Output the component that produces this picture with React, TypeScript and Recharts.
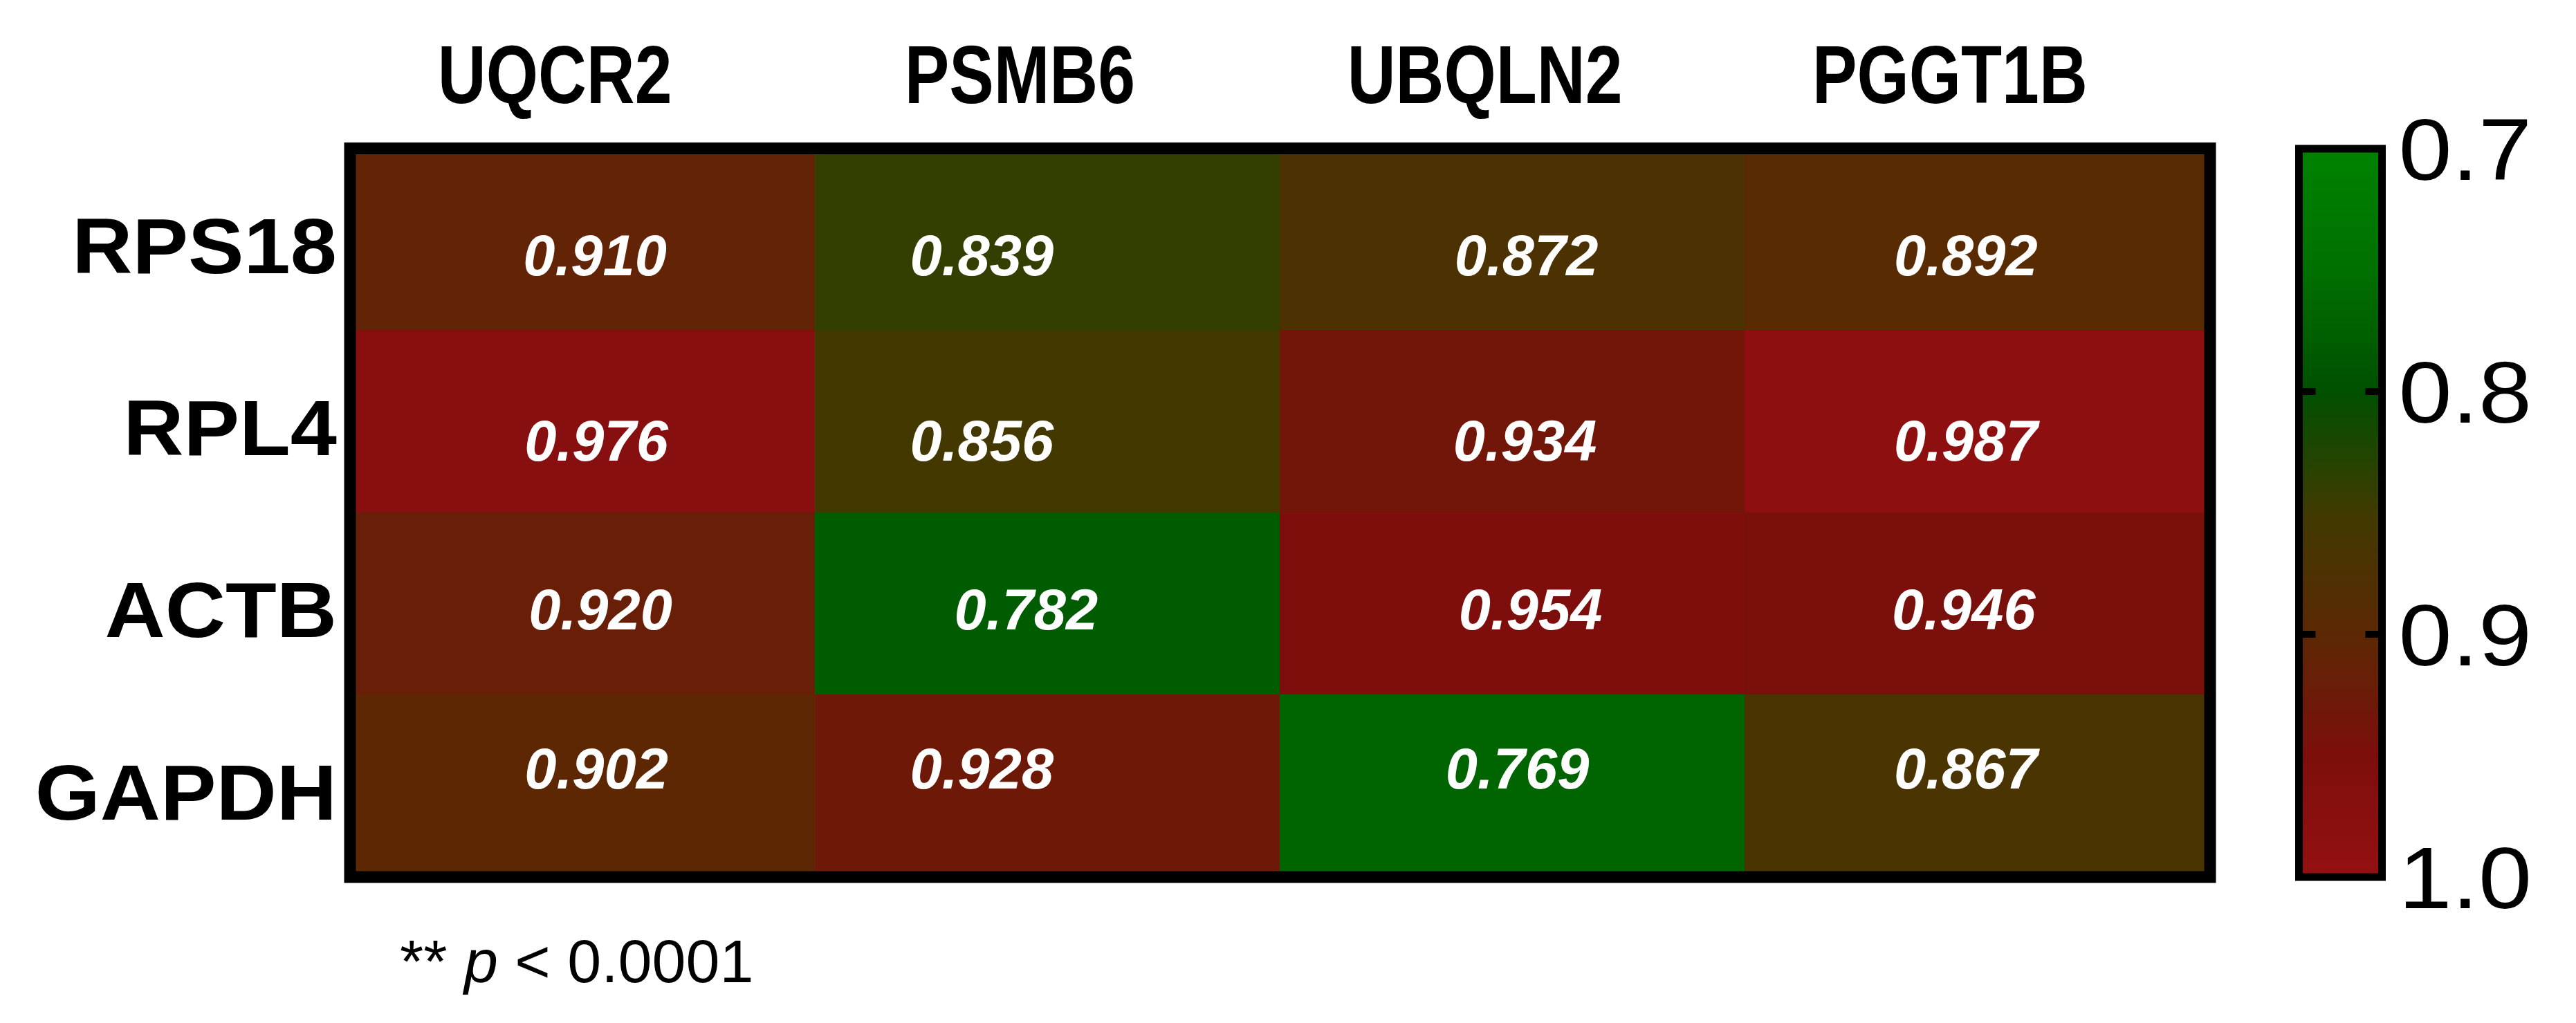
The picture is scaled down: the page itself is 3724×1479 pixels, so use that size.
import { Bar, BarChart, Cell, LabelList, ReferenceArea, ReferenceLine, XAxis, YAxis } from 'recharts'

const COLUMNS = ['UQCR2', 'PSMB6', 'UBQLN2', 'PGGT1B']
const ROWS = ['RPS18', 'RPL4', 'ACTB', 'GAPDH']
const RPS18 = [0.91, 0.839, 0.872, 0.892]
const RPL4 = [0.976, 0.856, 0.934, 0.987]
const ACTB = [0.92, 0.782, 0.954, 0.946]
const GAPDH = [0.902, 0.928, 0.769, 0.867]
const ROW_VALUES = [RPS18, RPL4, ACTB, GAPDH]
const SCALE_TICKS = [0.7, 0.8, 0.9, 1.0]
const FOOTNOTE = 'p < 0.0001'

// colour ramp, green (0.7) -> dark -> red (1.0)
const RAMP: [number, number[]][] = [
  [0.7, [0, 130, 0]],
  [0.75, [0, 112, 0]],
  [0.8, [0, 80, 0]],
  [0.85, [64, 58, 0]],
  [0.9, [92, 40, 4]],
  [0.95, [124, 14, 12]],
  [1.0, [148, 16, 18]],
]

const rgb = (c: number[]) => `rgb(${c.map((v) => Math.round(v)).join(',')})`

function colorFor(v: number) {
  for (let i = 1; i < RAMP.length; i++) {
    const [v0, c0] = RAMP[i - 1]
    const [v1, c1] = RAMP[i]
    if (v <= v1) {
      const t = Math.max(0, (v - v0) / (v1 - v0))
      return rgb(c0.map((c, k) => c + (c1[k] - c) * t))
    }
  }
  return rgb(RAMP[RAMP.length - 1][1])
}

const data = COLUMNS.map((gene, c) => {
  const d: Record<string, string | number> = { gene }
  ROWS.forEach((r, i) => {
    d[r] = 1
    d[`${r}_r`] = ROW_VALUES[i][c]
  })
  return d
})

const FONT = '"Liberation Sans", Arial, sans-serif'
// the value labels are not quite centred in the original
const ROW_DY = [22, 27, 8, -26]
const LABEL_DX = [
  [18, -95, 20, -17],
  [20, -95, 18, -17],
  [26, -31, 26, -20],
  [20, -95, 7, -17],
]

function ColumnTick({ x, y, payload }: any) {
  return (
    <text
      transform={`translate(${x - 40},${y - 66}) scale(0.82,1)`}
      textAnchor="middle"
      fontFamily={FONT}
      fontWeight="bold"
      fontSize={118}
      fill="#000"
    >
      {payload.value}
    </text>
  )
}

function RowTick({ x, y, payload }: any) {
  return (
    <text
      transform={`translate(${x},${y + 8}) scale(1.06,1)`}
      dy="0.355em"
      textAnchor="end"
      fontFamily={FONT}
      fontWeight="bold"
      fontSize={114}
      fill="#000"
    >
      {ROWS[Math.floor(payload.value)]}
    </text>
  )
}

function ScaleTick({ x, y, payload }: any) {
  return (
    <text
      transform={`translate(${x + 24},${y}) scale(1.1,1)`}
      dy="0.355em"
      textAnchor="start"
      fontFamily={FONT}
      fontSize={126}
      fill="#000"
    >
      {Number(payload.value).toFixed(1)}
    </text>
  )
}

const valueLabel = (row: number) => (props: any) => {
  const { x, y, width, height, value, index } = props
  return (
    <text
      x={x + width / 2 + LABEL_DX[row][index]}
      y={y + height / 2 + ROW_DY[row]}
      dy="0.355em"
      textAnchor="middle"
      fontFamily={FONT}
      fontWeight="bold"
      fontStyle="italic"
      fontSize={83}
      fill="#fff"
    >
      {Number(value).toFixed(3)}
    </text>
  )
}

export default function App() {
  return (
    <div style={{ position: 'absolute', left: 0, top: 0, width: 3724, height: 1479, background: '#fff' }}>
      <div style={{ position: 'absolute', left: 0, top: 0 }}>
        <BarChart
          width={3290}
          height={1479}
          data={data}
          margin={{ top: 0.5, right: 95, bottom: 211, left: 0 }}
          barCategoryGap={0}
          barGap={0}
        >
          <XAxis
            dataKey="gene"
            orientation="top"
            height={214}
            axisLine={false}
            tickLine={false}
            tickSize={0}
            tickMargin={0}
            interval={0}
            tick={<ColumnTick />}
          />
          <YAxis
            type="number"
            domain={[0, ROWS.length]}
            reversed
            ticks={ROWS.map((_, i) => i + 0.5)}
            width={506}
            axisLine={false}
            tickLine={false}
            tickSize={0}
            tickMargin={19}
            interval={0}
            tick={<RowTick />}
          />
          {ROWS.map((row, i) => (
            <Bar key={row} dataKey={row} stackId="hm" isAnimationActive={false}>
              {data.map((d, c) => (
                <Cell key={c} fill={colorFor(d[`${row}_r`] as number)} stroke={colorFor(d[`${row}_r`] as number)} strokeWidth={1} />
              ))}
              <LabelList dataKey={`${row}_r`} content={valueLabel(i)} />
            </Bar>
          ))}
          <ReferenceArea y1={0} y2={ROWS.length} fill="none" stroke="#000" strokeWidth={17} zIndex={1500} />
        </BarChart>
      </div>

      <div style={{ position: 'absolute', left: 3290, top: 0 }}>
        <BarChart
          width={434}
          height={1479}
          data={SCALE_TICKS.map((t) => ({ t }))}
          margin={{ top: 215, right: 0, bottom: 211, left: 33.5 }}
        >
          <defs>
            <linearGradient id="scaleGrad" x1="0" y1="0" x2="0" y2="1">
              {RAMP.map(([v, c]) => (
                <stop key={v} offset={(v - 0.7) / 0.3} stopColor={rgb(c)} />
              ))}
            </linearGradient>
          </defs>
          <XAxis type="number" dataKey="t" domain={[0, 1]} hide />
          <YAxis
            type="number"
            orientation="right"
            domain={[0.7, 1.0]}
            reversed
            ticks={SCALE_TICKS}
            width={280.5}
            axisLine={false}
            tickLine={false}
            tickSize={0}
            tickMargin={0}
            interval={0}
            allowDataOverflow
            tick={<ScaleTick />}
          />
          <ReferenceArea y1={0.7} y2={1.0} fill="url(#scaleGrad)" fillOpacity={1} stroke="#000" strokeWidth={11} />
          {SCALE_TICKS.slice(1, -1).map((t) => (
            <ReferenceLine key={`l${t}`} segment={[{ x: 0, y: t }, { x: 0.2, y: t }]} stroke="#000" strokeWidth={10} />
          ))}
          {SCALE_TICKS.slice(1, -1).map((t) => (
            <ReferenceLine key={`r${t}`} segment={[{ x: 0.8, y: t }, { x: 1, y: t }]} stroke="#000" strokeWidth={10} />
          ))}
        </BarChart>
      </div>

      <div
        style={{
          position: 'absolute',
          left: 578,
          top: 1346,
          fontFamily: FONT,
          fontSize: 88,
          lineHeight: 1,
          whiteSpace: 'pre',
          color: '#000',
        }}
      >
        {'** '}
        <i>p</i>
        {FOOTNOTE.slice(1)}
      </div>
    </div>
  )
}
